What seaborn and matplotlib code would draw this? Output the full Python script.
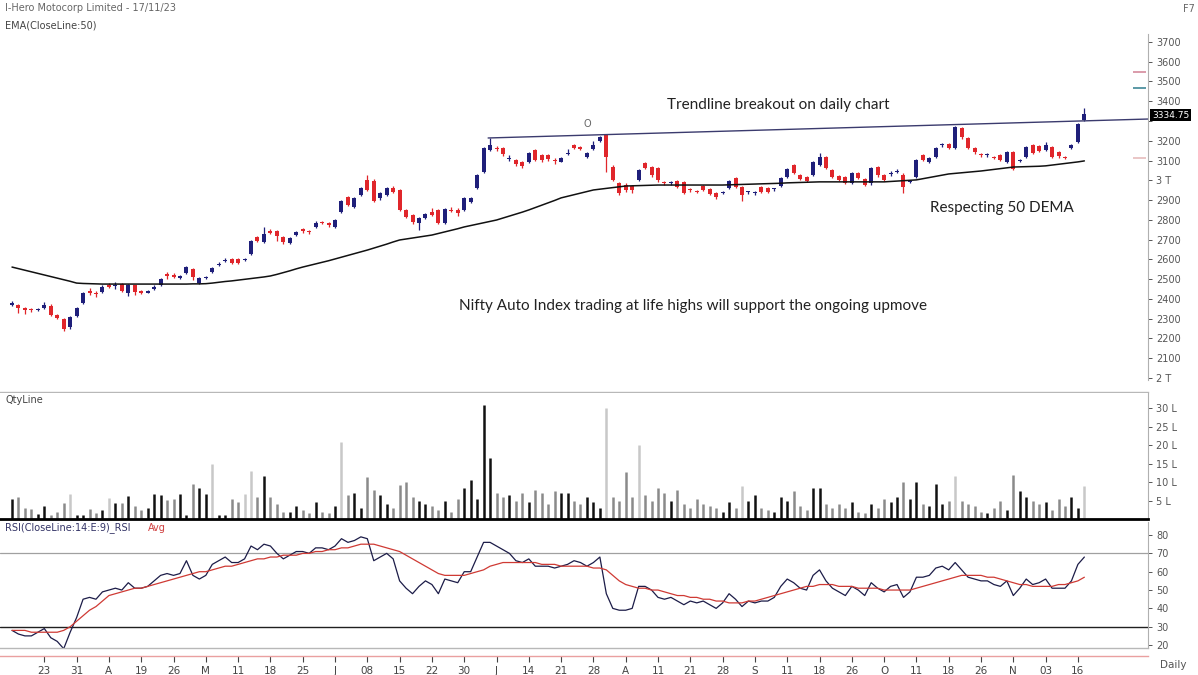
import matplotlib
matplotlib.use("Agg")
import matplotlib.pyplot as plt
import seaborn as sns
import pandas as pd
import numpy as np

# ---- daily candles, Hero Motocorp ----
opens = [2370, 2369, 2355, 2345, 2342, 2355, 2365, 2318, 2300, 2258,
         2315, 2380, 2440, 2432, 2435, 2470, 2465, 2475, 2430, 2468,
         2440, 2432, 2450, 2470, 2525, 2520, 2505, 2532, 2550, 2480,
         2508, 2535, 2570, 2590, 2602, 2600, 2595, 2628, 2712, 2690,
         2745, 2745, 2712, 2683, 2725, 2752, 2742, 2765, 2790, 2782,
         2766, 2840, 2915, 2865, 2925, 3000, 2995, 2910, 2925, 2960,
         2950, 2850, 2825, 2785, 2810, 2840, 2850, 2785, 2852, 2852,
         2850, 2890, 2960, 3040, 3155, 3165, 3165, 3110, 3105, 3095,
         3090, 3152, 3130, 3128, 3105, 3095, 3135, 3178, 3168, 3118,
         3160, 3200, 3230, 3067, 2985, 2975, 2970, 3000, 3085, 3065,
         3060, 2990, 2985, 2995, 2990, 2955, 2945, 2970, 2955, 2935,
         2935, 2960, 3010, 2965, 2940, 2935, 2965, 2960, 2955, 2970,
         3015, 3075, 3028, 3018, 3025, 3078, 3118, 3052, 3020, 3017,
         2985, 3037, 3006, 2985, 3065, 3025, 3030, 3040, 3027, 2990,
         3017, 3128, 3093, 3118, 3178, 3185, 3163, 3265, 3215, 3163,
         3130, 3128, 3118, 3128, 3093, 3143, 3100, 3118, 3178, 3172,
         3153, 3168, 3143, 3118, 3163, 3193, 3305]
closes = [2378, 2354, 2345, 2343, 2350, 2368, 2320, 2303, 2250, 2308,
          2352, 2428, 2432, 2425, 2460, 2462, 2470, 2440, 2470, 2435,
          2432, 2438, 2462, 2500, 2515, 2512, 2515, 2562, 2513, 2505,
          2512, 2555, 2578, 2598, 2582, 2582, 2602, 2695, 2692, 2728,
          2735, 2718, 2690, 2708, 2740, 2744, 2738, 2785, 2784, 2772,
          2800, 2895, 2875, 2910, 2960, 2950, 2895, 2935, 2960, 2940,
          2850, 2815, 2790, 2810, 2830, 2825, 2785, 2855, 2845, 2835,
          2910, 2910, 3025, 3165, 3180, 3158, 3135, 3115, 3080, 3070,
          3140, 3103, 3103, 3108, 3098, 3112, 3140, 3163, 3158, 3140,
          3178, 3218, 3117, 3000, 2935, 2950, 2950, 3050, 3060, 3025,
          3000, 2985, 2988, 2965, 2935, 2950, 2940, 2950, 2930, 2915,
          2940, 2995, 2965, 2925, 2942, 2938, 2940, 2940, 2958, 3010,
          3055, 3035, 3008, 2998, 3092, 3118, 3062, 3017, 3000, 2985,
          3037, 3012, 2975, 3060, 3025, 3000, 3033, 3043, 2965, 2993,
          3103, 3103, 3112, 3163, 3180, 3163, 3270, 3220, 3163, 3143,
          3128, 3130, 3115, 3103, 3143, 3058, 3103, 3168, 3138, 3148,
          3178, 3118, 3123, 3115, 3178, 3285, 3335]
highs = [2390, 2375, 2360, 2352, 2355, 2385, 2372, 2322, 2305, 2312,
         2358, 2435, 2455, 2440, 2468, 2478, 2485, 2480, 2475, 2472,
         2445, 2445, 2468, 2505, 2535, 2530, 2520, 2568, 2555, 2510,
         2518, 2560, 2585, 2605, 2608, 2606, 2608, 2700, 2718, 2765,
         2752, 2750, 2718, 2712, 2745, 2758, 2748, 2792, 2795, 2788,
         2805, 2900, 2920, 2915, 2965, 3025, 3005, 2940, 2968, 2970,
         2958, 2855, 2830, 2815, 2835, 2860, 2855, 2860, 2865, 2858,
         2915, 2915, 3030, 3170, 3215, 3175, 3170, 3130, 3110, 3100,
         3145, 3160, 3135, 3135, 3112, 3118, 3160, 3185, 3172, 3145,
         3200, 3225, 3235, 3075, 2990, 2985, 2975, 3055, 3092, 3070,
         3065, 2995, 2995, 3000, 2995, 2960, 2950, 2975, 2960, 2940,
         2945, 3000, 3015, 2970, 2948, 2945, 2970, 2965, 2962, 3015,
         3060, 3080, 3032, 3022, 3098, 3140, 3122, 3058, 3025, 3022,
         3042, 3042, 3012, 3065, 3070, 3030, 3045, 3055, 3035, 3000,
         3108, 3135, 3118, 3168, 3188, 3190, 3275, 3270, 3220, 3168,
         3140, 3138, 3125, 3132, 3148, 3148, 3110, 3172, 3185, 3178,
         3195, 3172, 3148, 3125, 3185, 3290, 3365]
lows = [2365, 2330, 2325, 2335, 2338, 2350, 2315, 2298, 2240, 2250,
        2310, 2375, 2420, 2410, 2430, 2455, 2450, 2435, 2415, 2420,
        2425, 2428, 2445, 2465, 2500, 2505, 2500, 2528, 2498, 2475,
        2500, 2530, 2565, 2585, 2575, 2578, 2590, 2622, 2688, 2685,
        2730, 2695, 2680, 2678, 2720, 2735, 2730, 2760, 2778, 2765,
        2760, 2835, 2868, 2860, 2920, 2945, 2890, 2900, 2920, 2935,
        2845, 2808, 2780, 2750, 2805, 2818, 2780, 2780, 2838, 2820,
        2845, 2885, 2955, 3035, 3150, 3150, 3125, 3100, 3070, 3060,
        3085, 3098, 3095, 3100, 3080, 3090, 3130, 3158, 3152, 3112,
        3155, 3195, 3040, 2995, 2925, 2940, 2935, 2995, 3055, 3018,
        2990, 2975, 2978, 2960, 2930, 2940, 2935, 2945, 2925, 2905,
        2930, 2955, 2960, 2895, 2930, 2928, 2935, 2935, 2948, 2965,
        3010, 3030, 3000, 2990, 3020, 3072, 3055, 3010, 2995, 2980,
        2980, 3005, 2970, 2978, 3018, 2995, 3022, 3035, 2935, 2985,
        3012, 3098, 3088, 3112, 3170, 3158, 3158, 3210, 3158, 3135,
        3120, 3120, 3108, 3098, 3088, 3050, 3092, 3112, 3132, 3142,
        3148, 3112, 3115, 3108, 3158, 3188, 3300]
# EMA(50) of close
ema50 = [2561, 2553, 2545, 2537, 2529, 2521, 2513, 2505, 2497, 2489,
         2480, 2478, 2477, 2476, 2475, 2475, 2475, 2475, 2475, 2475,
         2475, 2475, 2475, 2475, 2475, 2475, 2475, 2475, 2476, 2476,
         2477, 2480, 2484, 2488, 2491, 2495, 2499, 2503, 2507, 2511,
         2516, 2524, 2533, 2542, 2552, 2561, 2569, 2577, 2585, 2593,
         2602, 2611, 2620, 2629, 2638, 2647, 2657, 2667, 2677, 2688,
         2698, 2703, 2708, 2713, 2718, 2723, 2731, 2739, 2747, 2755,
         2764, 2771, 2778, 2785, 2792, 2799, 2809, 2819, 2829, 2839,
         2850, 2862, 2874, 2886, 2898, 2911, 2919, 2927, 2935, 2943,
         2951, 2955, 2959, 2963, 2967, 2971, 2972, 2973, 2974, 2975,
         2976, 2976, 2976, 2976, 2976, 2976, 2976, 2976, 2976, 2976,
         2976, 2977, 2978, 2979, 2980, 2981, 2982, 2983, 2984, 2985,
         2987, 2988, 2989, 2990, 2991, 2992, 2992, 2992, 2992, 2992,
         2992, 2992, 2992, 2992, 2992, 2992, 2994, 2996, 2998, 3000,
         3002, 3008, 3014, 3020, 3026, 3032, 3035, 3038, 3041, 3044,
         3047, 3051, 3055, 3059, 3063, 3067, 3068, 3069, 3070, 3071,
         3073, 3077, 3081, 3085, 3089, 3093, 3098]
# volume in lakh shares
volume = [5.4, 6.0, 3.0, 2.7, 1.4, 3.5, 1.2, 1.9, 4.3, 6.8,
          1.0, 1.2, 2.7, 1.7, 2.5, 5.7, 4.3, 4.3, 6.3, 3.5,
          2.5, 2.9, 6.7, 6.5, 5.2, 5.4, 6.7, 1.0, 9.5, 8.4,
          6.7, 15.0, 1.0, 1.2, 5.4, 4.7, 6.8, 13.0, 6.0, 11.7,
          6.0, 4.2, 1.9, 1.9, 3.5, 2.5, 1.5, 4.5, 2.0, 1.5,
          3.5, 21.0, 6.5, 7.0, 3.0, 11.4, 8.0, 6.5, 4.0, 3.0,
          9.2, 10.0, 6.0, 5.0, 4.0, 3.5, 2.5, 5.0, 2.0, 5.5,
          8.4, 10.5, 5.5, 31.0, 16.6, 7.0, 6.0, 6.5, 5.0, 7.0,
          4.5, 8.0, 7.0, 4.0, 7.5, 7.0, 7.0, 5.0, 4.0, 6.0,
          4.5, 3.0, 30.0, 6.0, 5.0, 12.8, 6.0, 20.0, 6.5, 5.0,
          8.5, 7.0, 5.0, 8.0, 4.0, 3.0, 5.5, 4.0, 3.5, 3.0,
          2.0, 4.5, 3.0, 9.0, 5.0, 6.5, 3.0, 2.5, 2.0, 6.0,
          5.0, 7.5, 3.5, 2.5, 8.5, 8.5, 4.0, 3.0, 4.0, 3.0,
          4.5, 2.0, 1.5, 4.0, 3.0, 5.5, 4.5, 6.0, 10.0, 5.5,
          10.0, 4.0, 3.5, 9.5, 4.0, 5.0, 11.7, 5.0, 4.0, 3.5,
          2.0, 1.5, 3.0, 5.0, 2.5, 12.0, 7.5, 6.0, 5.0, 4.0,
          4.5, 2.5, 5.5, 3.5, 6.0, 3.0, 9.0]
rsi = [28, 26, 25, 25, 27, 29, 24, 22, 18, 27,
       35, 45, 46, 45, 49, 50, 51, 50, 54, 51,
       51, 52, 55, 58, 59, 58, 59, 66, 58, 56,
       58, 64, 66, 68, 65, 65, 67, 74, 72, 75,
       74, 70, 67, 69, 71, 71, 70, 73, 73, 72,
       74, 78, 76, 77, 79, 78, 66, 68, 70, 67,
       55, 51, 48, 52, 55, 53, 48, 56, 55, 54,
       60, 60, 68, 76, 76, 74, 72, 70, 66, 65,
       67, 63, 63, 63, 62, 63, 64, 66, 65, 63,
       65, 68, 48, 40, 39, 39, 40, 52, 52, 50,
       46, 45, 46, 44, 42, 44, 43, 44, 42, 40,
       43, 48, 45, 41, 44, 43, 44, 44, 46, 52,
       56, 54, 51, 50, 58, 61, 55, 51, 49, 47,
       52, 50, 47, 54, 51, 49, 52, 53, 46, 49,
       57, 57, 58, 62, 63, 61, 65, 61, 57, 56,
       55, 55, 53, 52, 55, 47, 51, 56, 53, 54,
       56, 51, 51, 51, 55, 64, 68]
rsi_avg = [28, 28, 28, 27, 27, 27, 27, 27, 28, 30,
           33, 36, 39, 41, 44, 47, 48, 49, 50, 51,
           51, 52, 53, 54, 55, 56, 57, 58, 59, 60,
           60, 61, 62, 63, 63, 64, 65, 66, 67, 67,
           68, 68, 69, 69, 69, 70, 70, 71, 71, 72,
           72, 73, 73, 74, 75, 75, 75, 74, 73, 72,
           71, 69, 67, 65, 63, 61, 59, 58, 58, 58,
           58, 59, 60, 61, 63, 64, 65, 65, 65, 65,
           65, 65, 64, 64, 64, 63, 63, 63, 63, 63,
           62, 62, 61, 58, 55, 53, 52, 51, 51, 50,
           50, 49, 48, 47, 47, 46, 46, 45, 45, 44,
           44, 43, 43, 43, 44, 44, 45, 46, 47, 48,
           49, 50, 51, 52, 52, 53, 53, 53, 52, 52,
           52, 51, 51, 51, 51, 50, 50, 50, 50, 50,
           51, 52, 53, 54, 55, 56, 57, 58, 58, 58,
           58, 57, 57, 56, 55, 54, 53, 53, 52, 52,
           52, 52, 53, 53, 54, 55, 57]

tick_pos = list(range(5, 170, 5))
tick_labels = ["23", "31", "A", "19", "26", "M", "11", "18", "25", "J", "08",
               "15", "22", "30", "J", "14", "21", "28", "A", "11", "21", "28",
               "S", "11", "18", "26", "O", "11", "18", "26", "N", "03", "16"]
trend_x = [73.7, 176]
trend_y = [3214, 3310]
last_price = "3334.75"
light_vol = {9, 15, 31, 36, 37, 51, 92, 97, 113, 146, 166}

UP, DOWN = "#1f1f7a", "#e0262b"

sns.set_theme(style="white")
plt.rcParams['font.family'] = ['DejaVu Sans']

n = len(closes)
df = pd.DataFrame({"idx": np.arange(n), "open": opens, "close": closes,
                   "high": highs, "low": lows, "ema": ema50, "vol": volume,
                   "rsi": rsi, "avg": rsi_avg})
df["up"] = df["close"] >= df["open"]

W, H = 1198, 675
fig = plt.figure(figsize=(W / 100, H / 100), dpi=100)


def box(x0, y0, x1, y1):
    return [x0 / W, 1 - y1 / H, (x1 - x0) / W, (y1 - y0) / H]


ax_p = fig.add_axes(box(0, 0, 1148, 392))
ax_v = fig.add_axes(box(0, 393, 1148, 519))
ax_r = fig.add_axes(box(0, 522, 1148, 648))
XL = (-1.86, 175.85)
for ax in (ax_p, ax_v, ax_r):
    ax.set_xlim(*XL)
    ax.set_facecolor("white")
    for s in ("top", "left"):
        ax.spines[s].set_visible(False)
    ax.spines["right"].set_color("#b0b0b0")
    ax.spines["right"].set_linewidth(0.8)
    ax.yaxis.tick_right()
    ax.tick_params(axis="y", direction="out", length=3, width=0.7, colors="#555555",
                   labelsize=7, pad=3)
    ax.tick_params(axis="x", bottom=False, labelbottom=False)
ax_p.spines["right"].set_bounds(1990, 3740)

# ---- price panel ----
colors = np.where(df["up"], UP, DOWN)
ax_p.vlines(df["idx"], df["low"], df["high"], colors=colors, lw=0.9)
body_lo = df[["open", "close"]].min(axis=1)
body_h = (df["close"] - df["open"]).abs().clip(lower=5)
ax_p.bar(df["idx"], body_h, bottom=body_lo, width=0.62, color=colors, lw=0)
sns.lineplot(data=df, x="idx", y="ema", ax=ax_p, color="#111111", lw=1.1)
ax_p.plot(trend_x, trend_y, color="#3b3b6e", lw=1.0)
ax_p.set_ylim(1929, 3912)
p_ticks = list(range(2000, 3800, 100))
# 3300 sits under the last-price flag, 3000 / 2000 read as "3 T" / "2 T"
p_labels = [("3 T" if t == 3000 else "2 T" if t == 2000 else "" if t == 3300 else str(t))
            for t in p_ticks]
ax_p.set_yticks(p_ticks)
ax_p.set_yticklabels(p_labels)
ax_p.spines["bottom"].set_color("#b8b8b8")
ax_p.spines["bottom"].set_linewidth(1.0)
ax_p.set_xlabel("")
ax_p.set_ylabel("")
# indicator value markers on the right edge
ax_p.hlines([3548, 3467, 3113], 173.6, 175.6, colors=["#d48a9c", "#3f8797", "#e6bcbc"], lw=1.2)
ax_p.text(89, 3285, "O", fontsize=7, color="#666666", ha="center", va="center")

ann = dict(family="Lato", fontsize=11, color="#222222", ha="center", va="center")
ax_p.text(118.6, 3381, "Trendline breakout on daily chart", **ann)
ax_p.text(153.3, 2860, "Respecting 50 DEMA", **ann)
ax_p.text(105.4, 2364, "Nifty Auto Index trading at life highs will support the ongoing upmove", **ann)

# ---- volume panel ----
vcols = ["#c8c8c8" if i in light_vol else ("#111111" if u else "#8a8a8a")
         for i, u in zip(df["idx"], df["up"])]
ax_v.vlines(df["idx"], 0, df["vol"], colors=vcols, lw=1.8)
ax_v.set_ylim(0, 34.2)
ax_v.set_yticks([5, 10, 15, 20, 25, 30])
ax_v.set_yticklabels(["5 L", "10 L", "15 L", "20 L", "25 L", "30 L"])
ax_v.spines["bottom"].set_color("#000000")
ax_v.spines["bottom"].set_linewidth(2.0)

# ---- RSI panel ----
ax_r.axhline(70, color="#a0a0a0", lw=0.9)
ax_r.axhline(30, color="#202020", lw=1.0)
sns.lineplot(data=df, x="idx", y="rsi", ax=ax_r, color="#1c1c48", lw=0.9)
sns.lineplot(data=df, x="idx", y="avg", ax=ax_r, color="#cf3a34", lw=0.9)
ax_r.set_ylim(18.4, 87.1)
ax_r.set_yticks([20, 30, 40, 50, 60, 70, 80])
ax_r.set_xlabel("")
ax_r.set_ylabel("")
ax_r.spines["bottom"].set_color("#b8b8b8")
ax_r.spines["bottom"].set_linewidth(1.0)

# date axis along a thin red base line
ax_d = fig.add_axes(box(0, 655, 1148, 656))
ax_d.set_xlim(*XL)
ax_d.set_yticks([])
for s in ("top", "left", "right"):
    ax_d.spines[s].set_visible(False)
ax_d.spines["bottom"].set_color("#eaa0a0")
ax_d.spines["bottom"].set_linewidth(1.0)
ax_d.set_xticks(tick_pos)
ax_d.set_xticklabels(tick_labels)
ax_d.tick_params(axis="x", bottom=True, direction="out", length=4, width=0.8,
                 colors="#444444", labelsize=7.5, pad=3)
ax_d.set_facecolor("none")

# ---- captions ----
fig.text(5 / W, 1 - 8 / H, "I-Hero Motocorp Limited - 17/11/23", fontsize=7,
         color="#666666", va="center")
fig.text(5 / W, 1 - 25 / H, "EMA(CloseLine:50)", fontsize=7, color="#444444", va="center")
fig.text(1183 / W, 1 - 9 / H, "F7", fontsize=7, color="#666666", va="center")
fig.text(1152 / W, 1 - 115 / H, last_price, fontsize=6.5, color="white", va="center",
         bbox=dict(facecolor="black", edgecolor="none", pad=1.2))
fig.text(5 / W, 1 - 400 / H, "QtyLine", fontsize=7, color="#444444", va="center")
fig.text(5 / W, 1 - 528 / H, "RSI(CloseLine:14:E:9)_RSI", fontsize=7, color="#333366", va="center")
fig.text(148 / W, 1 - 528 / H, "Avg", fontsize=7, color="#d04040", va="center")
fig.text(1160 / W, 1 - 665 / H, "Daily", fontsize=7.5, color="#555555", va="center")

fig.savefig("out.png", dpi=100)
